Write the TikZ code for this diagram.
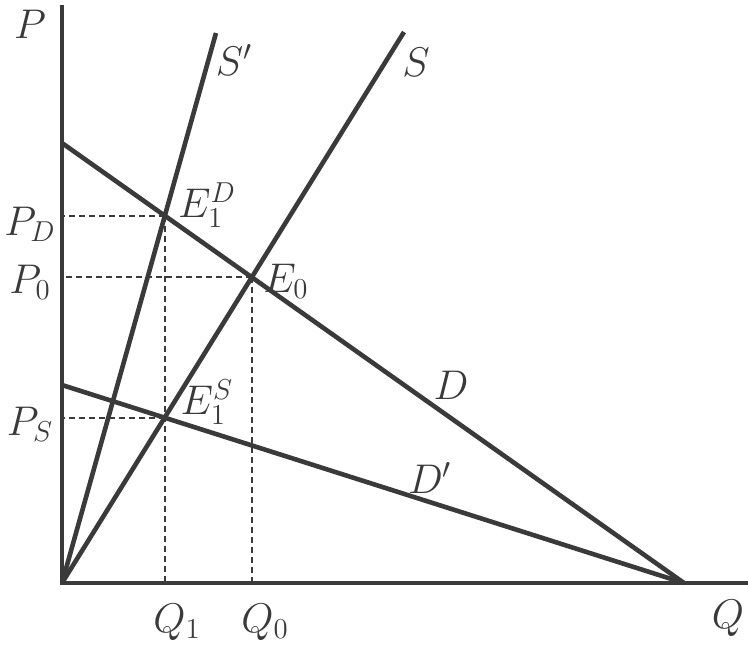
\documentclass[tikz,border=0pt]{standalone}
\usepackage{xcolor}
\usepackage{tikz}
\usetikzlibrary{intersections}
\definecolor{inkgray}{HTML}{3A3A3A}

\begin{document}
\begin{tikzpicture}[x=0.5pt,y=-0.5pt,
    axisline/.style={line width=1.7pt, draw=inkgray},
    curve/.style={line width=2.3pt, draw=inkgray},
    guide/.style={line width=0.9pt, draw=inkgray, dash pattern=on 3pt off 2pt},
    lbl/.style={text=inkgray, font=\fontsize{21}{24}\selectfont}]
  \useasboundingbox (0,0) rectangle (748,649);
  \coordinate (O) at (62,583);
  \coordinate (Ptop) at (62,5);
  \coordinate (Qend) at (748,583);
  \coordinate (Dtop) at (62,143);
  \coordinate (Dlow) at (62,385);
  \coordinate (Qmax) at (684,583);
  \coordinate (Sptop) at (216,33);
  \coordinate (Stop) at (404,32);
  % axes
  \draw[axisline] (Ptop) -- (O) -- (Qend);
  % supply and demand
  \draw[curve, name path=sprime] (O) -- (Sptop);
  \draw[curve, name path=supply] (O) -- (Stop);
  \draw[curve, name path=dem] (Dtop) -- (Qmax);
  \draw[curve, name path=demlow] (Dlow) -- (Qmax);
  \path[name intersections={of=sprime and dem, by=E1D}];
  \path[name intersections={of=supply and dem, by=E0}];
  \path[name intersections={of=supply and demlow, by=E1S}];
  % guides
  \draw[guide] (E1D) -- (E1D -| O);
  \draw[guide] (E0) -- (E0 -| O);
  \draw[guide] (E1S) -- (E1S -| O);
  \draw[guide] (E1D) -- (E1D |- O);
  \draw[guide] (E0) -- (E0 |- O);
  % labels
  \node[lbl] (lP) at (30,24) {$P$};
  \node[lbl] (lQ) at (728,618) {$Q$};
  \node[lbl] (lSp) at (234,60) {$S'$};
  \node[lbl] (lS) at (416,62) {$S$};
  \node[lbl] (lD) at (451,385) {$D$};
  \node[lbl] (lDp) at (430,478) {$D'$};
  \node[lbl] (lE1D) at (207,205) {$E_1^D$};
  \node[lbl] (lE0) at (286,281) {$E_0$};
  \node[lbl] (lE1S) at (207,402) {$E_1^S$};
  \node[lbl] (lPD) at (30,224) {$P_D$};
  \node[lbl] (lP0) at (30,282) {$P_0$};
  \node[lbl] (lPS) at (30,424) {$P_S$};
  \node[lbl] (lQ1) at (177,622) {$Q_1$};
  \node[lbl] (lQ0) at (265,622) {$Q_0$};
\end{tikzpicture}
\end{document}
